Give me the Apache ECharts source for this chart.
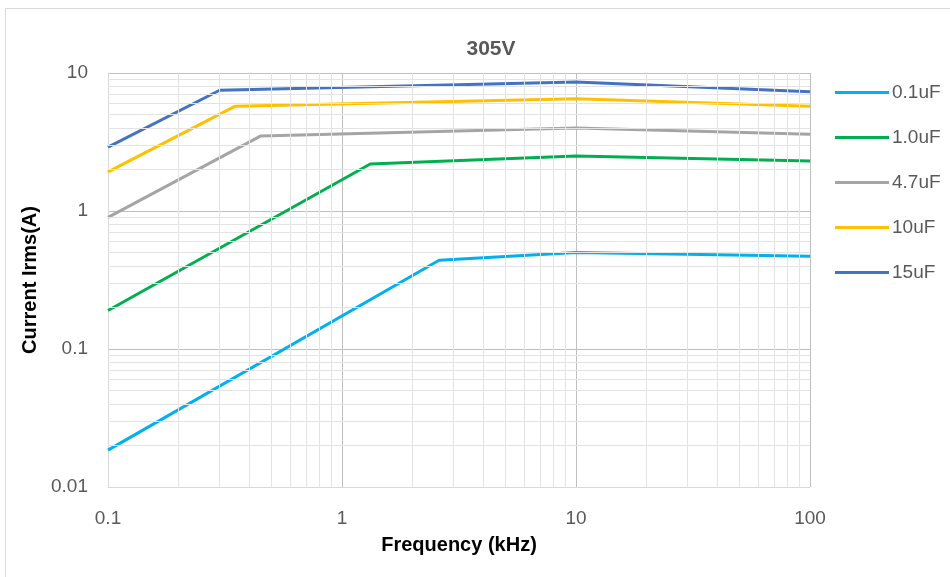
<!DOCTYPE html>
<html><head><meta charset="utf-8">
<script src="https://cdn.jsdelivr.net/npm/echarts@6/dist/echarts.min.js"></script>
<style>
html,body{margin:0;padding:0;background:#fff;overflow:hidden;}
#frame{position:absolute;left:5px;top:8px;width:960px;height:600px;border:1px solid #d9d9d9;box-sizing:border-box;}
#c{position:absolute;left:0;top:0;width:950px;height:577px;}
</style></head>
<body><div id="frame"></div><div id="c"></div>
<script>
const seriesNames = ['0.1uF','1.0uF','4.7uF','10uF','15uF'];
const colors = ['#00B0F0','#00B050','#A5A5A5','#FFC000','#4472C4'];
const freq_01 = [0.1, 2.6, 10, 100];
const cur_01  = [0.0185, 0.44, 0.50, 0.47];
const freq_1  = [0.1, 1.32, 10, 100];
const cur_1   = [0.19, 2.19, 2.5, 2.3];
const freq_47 = [0.1, 0.45, 10, 100];
const cur_47  = [0.9, 3.5, 4.0, 3.6];
const freq_10 = [0.1, 0.35, 10, 100];
const cur_10  = [1.92, 5.75, 6.5, 5.75];
const freq_15 = [0.1, 0.3, 10, 100];
const cur_15  = [2.9, 7.5, 8.6, 7.3];
const xMinorGrid = [0.2,0.3,0.4,0.5,0.6,0.7,0.8,0.9,2,3,4,5,6,7,8,9,20,30,40,50,60,70,80,90];
const yMinorGrid = [0.02,0.03,0.04,0.05,0.06,0.07,0.08,0.09,0.2,0.3,0.4,0.5,0.6,0.7,0.8,0.9,2,3,4,5,6,7,8,9];

const pairs = [[freq_01,cur_01],[freq_1,cur_1],[freq_47,cur_47],[freq_10,cur_10],[freq_15,cur_15]];
const font = "'Liberation Sans',Arial,sans-serif";

const series = pairs.map((p,i)=>({
  name: seriesNames[i], type:'line', symbol:'none', z:3,
  data: p[0].map((x,j)=>[x,p[1][j]]),
  lineStyle:{width:3,color:colors[i]}, itemStyle:{color:colors[i]}
}));
series.unshift({
  name:'grid', type:'line', data:[], z:1, silent:true,
  markLine:{silent:true, symbol:'none', animation:false,
    label:{show:false},
    lineStyle:{color:'#e3e3e3', width:1, type:'solid'},
    data: xMinorGrid.map(v=>({xAxis:v})).concat(yMinorGrid.map(v=>({yAxis:v})))}
});

const chart = echarts.init(document.getElementById('c'));
chart.setOption({
  animation:false,
  backgroundColor:'transparent',
  title:{text:'305V', left:486, top:34, textAlign:'center',
    textStyle:{fontFamily:font, fontSize:21, fontWeight:'bold', color:'#595959'}},
  legend:{data:seriesNames, orient:'vertical', left:830, top:78,
    icon:'rect', itemWidth:54, itemHeight:3, itemGap:26,
    textStyle:{fontFamily:font, fontSize:19, color:'#595959', padding:[0,0,0,-2]}},
  grid:{left:108, right:140, top:73, bottom:90},
  xAxis:{type:'log', logBase:10, min:0.1, max:100,
    name:'Frequency (kHz)', nameLocation:'middle', nameGap:48,
    nameTextStyle:{fontFamily:font, fontSize:20, fontWeight:'bold', color:'#000'},
    axisLine:{show:true, lineStyle:{color:'#d9d9d9'}}, axisTick:{show:false},
    axisLabel:{fontFamily:font, fontSize:19, color:'#595959', margin:22},
    splitLine:{show:true, lineStyle:{color:'#bfbfbf', width:1}}},
  yAxis:{type:'log', logBase:10, min:0.01, max:10,
    name:'Current Irms(A)', nameLocation:'middle', nameGap:66,
    nameTextStyle:{fontFamily:font, fontSize:20, fontWeight:'bold', color:'#000'},
    axisLine:{show:true, lineStyle:{color:'#d9d9d9'}}, axisTick:{show:false},
    axisLabel:{fontFamily:font, fontSize:19, color:'#595959', margin:20},
    splitLine:{show:true, lineStyle:{color:'#bfbfbf', width:1}}},
  series: series
});
</script></body></html>
